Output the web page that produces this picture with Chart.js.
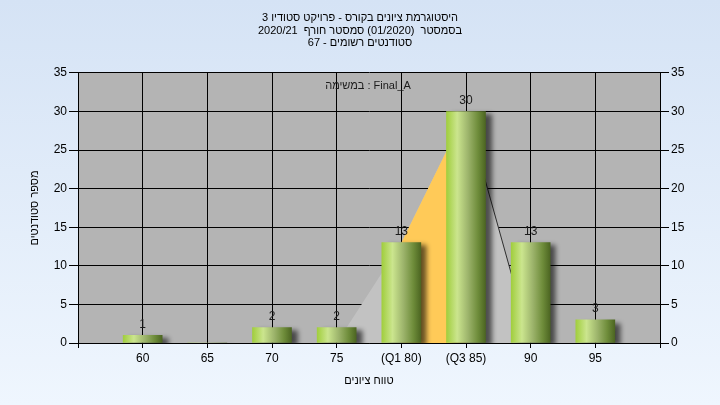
<!DOCTYPE html>
<html><head><meta charset="utf-8">
<script src="https://cdn.jsdelivr.net/npm/chart.js@4"></script>
<style>
html,body{margin:0;padding:0;}
#wrap{width:720px;height:405px;background:linear-gradient(#d5e3f5,#eff6fe);}
canvas{display:block}
</style>
</head><body><div id="wrap"><canvas id="c" width="720" height="405" dir="rtl"></canvas></div>
<script>
const titleLines = ['היסטוגרמת ציונים בקורס - פרויקט סטודיו 3', 'בסמסטר  (01/2020) סמסטר חורף  2020/21', 'סטודנטים רשומים - 67'];
const categories = [60, 65, 70, 75, 80, 85, 90, 95];
const counts = [1, 0, 2, 2, 13, 30, 13, 3];
const tickLabels = {60: '60', 65: '65', 70: '70', 75: '75', 80: '(Q1 80)', 85: '(Q3 85)', 90: '90', 95: '95'};
const curveX = [75, 80, 85, 90];
const curveY = [0, 13, 30, 0];
const quartileX = [80, 85];
const descX = [85, 90];
const seriesNote = 'Final_A : במשימה';
const xTitle = 'טווח ציונים';
const yTitle = 'מספר סטודנטים';

const FONT = 'Liberation Sans';

const barData = categories.map((c, i) => ({x: c, y: counts[i]}));
const curveData = curveX.map((x, i) => ({x, y: curveY[i]}));
const quartData = curveData.filter(p => p.x >= quartileX[0] && p.x <= quartileX[1]);
const descData = curveData.filter(p => p.x >= descX[0] && p.x <= descX[1]);

function barGradient(ctx) {
  const chart = ctx.chart;
  if (!chart.chartArea || ctx.dataIndex === undefined) return '#9fcc3c';
  const x = chart.scales.x.getPixelForValue(categories[ctx.dataIndex]);
  const g = chart.ctx.createLinearGradient(x - 20, 0, x + 20, 0);
  g.addColorStop(0, '#9fcd3a');
  g.addColorStop(0.28, '#cbe58e');
  g.addColorStop(0.55, '#9db46c');
  g.addColorStop(0.8, '#6e8c3a');
  g.addColorStop(1, '#4a6320');
  return g;
}

const plotBg = {
  id: 'plotBg',
  beforeDraw(chart) {
    const {ctx, chartArea: a} = chart;
    ctx.save();
    ctx.fillStyle = '#b4b4b4';
    ctx.fillRect(a.left, a.top, a.right - a.left, a.bottom - a.top);
    ctx.restore();
  }
};

const barShadow = {
  id: 'barShadow',
  beforeDatasetDraw(chart, args) {
    if (args.index !== 0) return;
    const ctx = chart.ctx;
    ctx.save();
    ctx.shadowColor = 'rgba(0,0,0,0.6)';
    ctx.shadowBlur = 5;
    ctx.shadowOffsetX = 6;
    ctx.shadowOffsetY = 3;
  },
  afterDatasetDraw(chart, args) {
    if (args.index !== 0) return;
    chart.ctx.restore();
  }
};

const valueLabels = {
  id: 'valueLabels',
  afterDatasetsDraw(chart) {
    const ctx = chart.ctx;
    const meta = chart.getDatasetMeta(0);
    ctx.save();
    ctx.font = '12px "' + FONT + '"';
    ctx.fillStyle = '#1c1c1c';
    ctx.textAlign = 'center';
    ctx.textBaseline = 'bottom';
    ctx.direction = 'ltr';
    meta.data.forEach((el, i) => {
      if (!counts[i]) return;
      ctx.fillText(String(counts[i]), el.x, el.y - 5);
    });
    ctx.font = '11px "' + FONT + '"';
    ctx.direction = 'rtl';
    ctx.textBaseline = 'middle';
    const a = chart.chartArea;
    ctx.fillText(seriesNote, (a.left + a.right) / 2 - 1, a.top + 13);
    ctx.restore();
  }
};

new Chart(document.getElementById('c'), {
  type: 'bar',
  data: {
    datasets: [
      {type: 'bar', data: barData, backgroundColor: barGradient, borderWidth: 0, barThickness: 39, order: 0},
      {type: 'line', data: descData, borderColor: '#2e2e2e', borderWidth: 1, pointRadius: 0, fill: false, order: 1},
      {type: 'line', data: quartData, borderWidth: 0, backgroundColor: '#ffca58', pointRadius: 0, fill: 'origin', order: 2},
      {type: 'line', data: curveData, borderWidth: 0, backgroundColor: '#c2c2c2', pointRadius: 0, fill: 'origin', order: 3}
    ]
  },
  options: {
    responsive: false,
    animation: false,
    devicePixelRatio: 1,
    layout: {padding: 0},
    plugins: {
      legend: {display: false},
      tooltip: {enabled: false},
      title: {
        display: true,
        text: titleLines,
        color: '#000',
        font: {family: FONT, size: 11, weight: 'normal', lineHeight: 1.18},
        padding: {top: 11, bottom: 23}
      }
    },
    scales: {
      x: {
        type: 'linear', min: 55, max: 100, offset: false,
        afterFit(s) { s.height = 62; },
        ticks: {stepSize: 5, autoSkip: false, maxRotation: 0, color: '#000', padding: 3,
          font: {family: FONT, size: 12},
          callback: v => tickLabels[v] || ''},
        grid: {color: '#000', tickLength: 5, offset: false},
        border: {color: '#000'},
        title: {display: true, text: xTitle, color: '#000', font: {family: FONT, size: 11, lineHeight: 1}, padding: {top: 0, bottom: 19}}
      },
      y: {
        position: 'left', min: 0, max: 35,
        afterFit(s) { s.width = 78; },
        ticks: {stepSize: 5, color: '#000', padding: 2, font: {family: FONT, size: 12}},
        grid: {color: '#000', tickLength: 9},
        border: {color: '#000'},
        title: {display: true, text: yTitle, color: '#000', font: {family: FONT, size: 11, lineHeight: 1}, padding: {top: 29, bottom: 0}}
      },
      y2: {
        position: 'right', min: 0, max: 35, display: true,
        afterFit(s) { s.width = 60; },
        ticks: {stepSize: 5, color: '#000', padding: 2, font: {family: FONT, size: 12}},
        grid: {color: '#000', tickLength: 9, drawOnChartArea: false},
        border: {color: '#000'}
      }
    }
  },
  plugins: [plotBg, barShadow, valueLabels]
});
</script>
</body></html>
